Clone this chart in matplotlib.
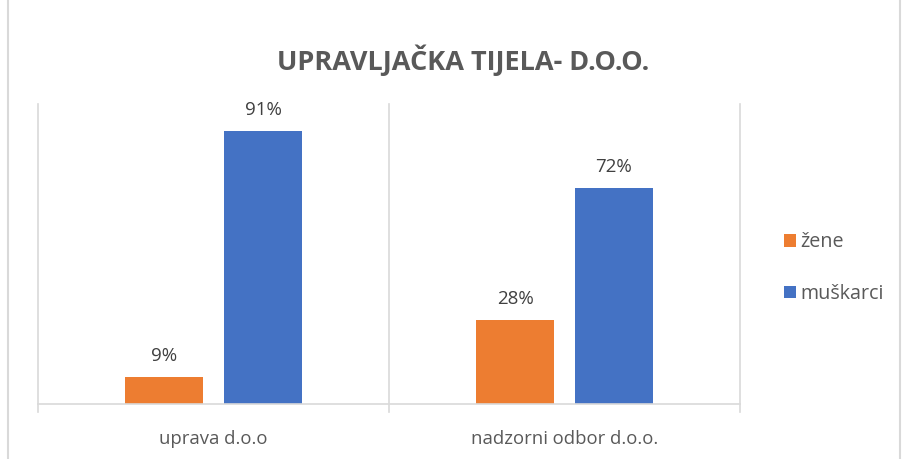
import matplotlib.pyplot as plt
import numpy as np
from matplotlib.patches import Rectangle

# podaci
kategorije = ['uprava d.o.o', 'nadzorni odbor d.o.o.']
zene = [0.09, 0.28]
muskarci = [0.91, 0.72]
oznake_zene = ['9%', '28%']
oznake_muskarci = ['91%', '72%']

plt.rcParams['font.family'] = ['Open Sans', 'DejaVu Sans']

fig = plt.figure(figsize=(9.06, 4.59), dpi=100)
# okvir grafikona
fig.patches.append(Rectangle((8/906, -0.01), 892/906, 1.02, transform=fig.transFigure,
                             fill=False, edgecolor='#d9d9d9', linewidth=1.5))

ax = fig.add_axes([38/906, 1 - 404/459, 702/906, 300/459])
x = np.arange(len(kategorije))
w = 0.225
b1 = ax.bar(x - 0.141, zene, w, color='#ed7d31', label='žene')
b2 = ax.bar(x + 0.141, muskarci, w, color='#4472c4', label='muškarci')

for bars, labs in [(b1, oznake_zene), (b2, oznake_muskarci)]:
    for r, t in zip(bars, labs):
        ax.text(r.get_x() + r.get_width()/2, r.get_height() + 0.04, t,
                ha='center', va='bottom', fontsize=13.5, color='#404040')

ax.set_xlim(-0.5, 1.5)
ax.set_ylim(0, 1.0)
ax.set_yticks([])
for xv in [-0.5, 0.5, 1.5]:
    ax.plot([xv, xv], [-0.025, 1.0], color='#d9d9d9', lw=1.2, clip_on=False)
for s in ['top', 'right', 'left']:
    ax.spines[s].set_visible(False)
ax.spines['bottom'].set_color('#d9d9d9')
ax.spines['bottom'].set_linewidth(1.2)
ax.set_xticks(x)
ax.set_xticklabels(kategorije, fontsize=13.3, color='#595959')
ax.tick_params(axis='x', length=0, pad=19)

fig.text(463/906, 1 - 60/459, 'UPRAVLJAČKA TIJELA- D.O.O.', ha='center', va='center',
         fontsize=19.5, fontweight='bold', color='#595959')

leg = fig.legend(handles=[b1, b2], loc='center left', bbox_to_anchor=(766/906, 1 - 268/459),
                 frameon=False, fontsize=14.2, handlelength=0.6, handleheight=0.6,
                 labelspacing=1.6, handletextpad=0.25)
for t in leg.get_texts():
    t.set_color('#595959')

fig.savefig('out.png', dpi=100)
